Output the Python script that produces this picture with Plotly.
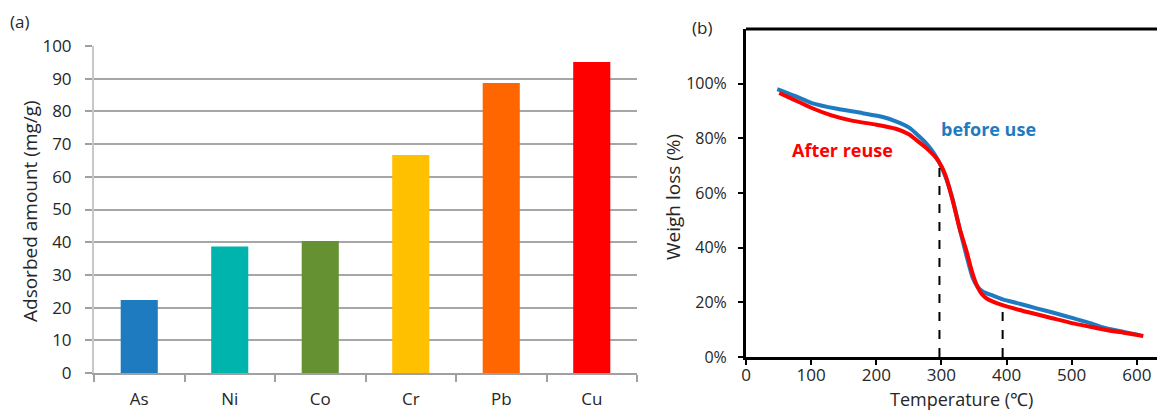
import plotly.graph_objects as go

# ---- Panel (a) data ----
metals = ["As", "Ni", "Co", "Cr", "Pb", "Cu"]
adsorbed = [22.3, 38.7, 40.4, 66.7, 88.7, 95.1]
bar_colors = ["#1F7BBF", "#00B4AE", "#659133", "#FFC000", "#FF6600", "#FF0000"]
y_ticks_a = [0, 10, 20, 30, 40, 50, 60, 70, 80, 90, 100]

# ---- Panel (b) data ----
T_before = [48, 75, 101, 140, 179, 210, 230, 250, 261, 275, 287, 297, 307, 317, 328, 338,
            348, 356, 364, 380, 394, 420, 446, 475, 502, 530, 553, 580, 605]
W_before = [98, 95.5, 92.9, 90.8, 89.2, 87.8, 86.2, 84, 81.8, 78.6, 75.0, 71, 65.5, 58, 47,
            37.5, 29, 25.5, 23.9, 22.4, 21.1, 19.5, 17.8, 16, 14.2, 12.3, 10.5, 9.2, 8.0]
T_after = [51, 75, 101, 130, 164, 200, 230, 250, 261, 276, 292, 300, 307, 317, 328, 338, 346,
           353, 362, 369, 380, 394, 420, 440, 470, 502, 530, 553, 580, 610]
W_after = [96.6, 94, 91.1, 88.5, 86.4, 85, 83.5, 81.5, 79.5, 76.6, 72.8, 69.8, 66, 57.5, 47,
           39.2, 32, 27, 23, 21.5, 20.2, 19, 17.2, 16, 14.2, 12.3, 11, 9.9, 8.9, 7.7]
dash_T = [297, 394]
dash_top = [70.5, 18.0]
x_ticks_b = [0, 100, 200, 300, 400, 500, 600]
y_ticks_b = [0, 20, 40, 60, 80, 100]

FONT = "Open Sans"
TXT = "#262626"

fig = go.Figure()

fig.add_trace(go.Bar(x=metals, y=adsorbed, marker=dict(color=bar_colors, line=dict(width=0)),
                     xaxis="x", yaxis="y", showlegend=False))

fig.add_trace(go.Scatter(x=T_before, y=[w / 100 for w in W_before], mode="lines",
                         line=dict(color="#1F7BC1", width=4, shape="spline", smoothing=0.6),
                         xaxis="x2", yaxis="y2", showlegend=False))
fig.add_trace(go.Scatter(x=T_after, y=[w / 100 for w in W_after], mode="lines",
                         line=dict(color="#FF0000", width=4, shape="spline", smoothing=0.6),
                         xaxis="x2", yaxis="y2", showlegend=False))
for t, top in zip(dash_T, dash_top):
    fig.add_trace(go.Scatter(x=[t, t], y=[0, top / 100], mode="lines",
                             line=dict(color="black", width=2, dash="dash"),
                             xaxis="x2", yaxis="y2", showlegend=False))

fig.update_layout(
    width=1157, height=412,
    margin=dict(l=0, r=0, t=0, b=0, autoexpand=False),
    paper_bgcolor="white", plot_bgcolor="white",
    font=dict(family=FONT, color=TXT, size=16),
    bargap=0.59,
    xaxis=dict(domain=[94 / 1157, 637 / 1157], anchor="y", type="category", automargin=False,
               showline=True, linecolor="#A0A0A0", linewidth=1.5,
               ticks="outside", tickson="boundaries", ticklen=7, tickcolor="#A0A0A0",
               tickwidth=1.5, ticklabelstandoff=10,
               tickfont=dict(size=17, family=FONT, color=TXT), showgrid=False),
    yaxis=dict(domain=[(412 - 373) / 412, (412 - 46) / 412], anchor="x", automargin=False,
               range=[0, 100], tickvals=y_ticks_a,
               showline=True, linecolor="#C8C8C8", linewidth=2,
               ticks="outside", ticklen=7, tickcolor="#A0A0A0", tickwidth=1.5,
               ticklabelstandoff=10,
               showgrid=True, gridcolor="#A6A6A6", gridwidth=1.5,
               zeroline=False,
               tickfont=dict(size=17, family=FONT, color=TXT)),
    xaxis2=dict(domain=[746 / 1157, 1.0], anchor="y2", range=[0, 631], tickvals=x_ticks_b,
                automargin=False,
                showline=True, linecolor="black", linewidth=3,
                ticks="outside", ticklen=5, tickwidth=2, tickcolor="black",
                ticklabelstandoff=-4,
                showgrid=False, zeroline=False,
                tickfont=dict(size=17, family=FONT, color=TXT)),
    yaxis2=dict(domain=[(412 - 357) / 412, (412 - 29) / 412], anchor="x2", range=[0, 1.2],
                tickvals=[v / 100 for v in y_ticks_b], tickformat=".0%", automargin=False,
                showline=True, linecolor="black", linewidth=3,
                ticks="outside", ticklen=5, tickwidth=2, tickcolor="black",
                ticklabelstandoff=8,
                showgrid=False, zeroline=False,
                tickfont=dict(size=16, family=FONT, color=TXT)),
    shapes=[dict(type="line", xref="x2 domain", yref="y2 domain", x0=0, x1=1, y0=1, y1=1,
                 line=dict(color="black", width=3))],
    annotations=[
        dict(text="(a)", xref="paper", yref="paper", x=8 / 1157, y=(412 - 22) / 412,
             xanchor="left", yanchor="middle", showarrow=False,
             font=dict(size=17, family=FONT, color=TXT)),
        dict(text="(b)", xref="paper", yref="paper", x=690 / 1157, y=(412 - 28) / 412,
             xanchor="left", yanchor="middle", showarrow=False,
             font=dict(size=17, family=FONT, color=TXT)),
        dict(text="Adsorbed amount (mg/g)", xref="paper", yref="paper", x=30 / 1157,
             y=(412 - 211) / 412, textangle=-90, xanchor="center", yanchor="middle",
             showarrow=False, font=dict(size=19, family=FONT, color=TXT)),
        dict(text="Weigh loss (%)", xref="paper", yref="paper", x=673 / 1157,
             y=(412 - 197) / 412, textangle=-90, xanchor="center", yanchor="middle",
             showarrow=False, font=dict(size=19, family=FONT, color=TXT)),
        dict(text="Temperature (℃)", xref="paper", yref="paper", x=961 / 1157,
             y=(412 - 399) / 412, xanchor="center", yanchor="middle",
             showarrow=False, font=dict(size=18, family=FONT, color=TXT)),
        dict(text="<b>before use</b>", xref="paper", yref="paper", x=988 / 1157, y=(412 - 129) / 412,
             xanchor="center", yanchor="middle", showarrow=False,
             font=dict(size=18, family=FONT, color="#1F7BC1")),
        dict(text="<b>After reuse</b>", xref="paper", yref="paper", x=842 / 1157, y=(412 - 150) / 412,
             xanchor="center", yanchor="middle", showarrow=False,
             font=dict(size=18, family=FONT, color="#FF0000")),
    ],
)

fig.write_html("out.html", config={"displayModeBar": False},
               post_script="document.body.style.margin='0';document.body.style.overflow='hidden';")
